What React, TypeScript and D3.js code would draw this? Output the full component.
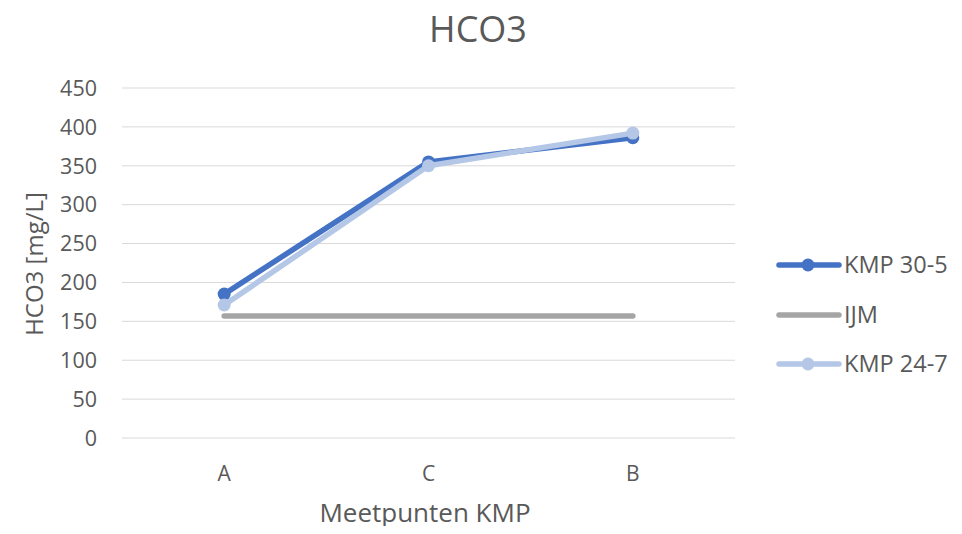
import React, { useEffect, useRef } from "react";
import * as d3 from "d3";

const categories = ["A", "C", "B"];
const kmp305 = [185, 355, 386];
const ijm = [157, 157, 157];
const kmp247 = [171, 350, 392];
const yTicks = [0, 50, 100, 150, 200, 250, 300, 350, 400, 450];

const series = [
  { name: "KMP 30-5", values: kmp305, color: "#4472c4", marker: true },
  { name: "IJM", values: ijm, color: "#a5a5a5", marker: false },
  { name: "KMP 24-7", values: kmp247, color: "#b4c7e7", marker: true },
];

const W = 962, H = 534;
const font = "'Open Sans', sans-serif";
const txt = "#595959";

export default function App() {
  const ref = useRef<SVGSVGElement>(null);
  useEffect(() => {
    const svg = d3.select(ref.current);
    svg.selectAll("*").remove();
    svg.append("rect").attr("width", W).attr("height", H).attr("fill", "#fff");
    const x = d3.scaleBand().domain(categories).range([122, 735]);
    const y = d3.scaleLinear().domain([0, 450]).range([438, 88]);
    const cx = (c: string) => (x(c) as number) + x.bandwidth() / 2;

    const g = svg.append("g");
    g.selectAll("line.grid").data(yTicks).enter().append("line")
      .attr("x1", 122).attr("x2", 735)
      .attr("y1", (d) => y(d)).attr("y2", (d) => y(d))
      .attr("stroke", "#d9d9d9").attr("stroke-width", 1);
    g.selectAll("text.yt").data(yTicks).enter().append("text")
      .attr("x", 97).attr("y", (d) => y(d)).attr("dy", "0.36em")
      .attr("text-anchor", "end").attr("font-family", font).attr("font-size", 21.5)
      .attr("fill", txt).text((d) => d);
    g.selectAll("text.xt").data(categories).enter().append("text")
      .attr("x", (d) => cx(d)).attr("y", 481)
      .attr("text-anchor", "middle").attr("font-family", font).attr("font-size", 21)
      .attr("fill", txt).text((d) => d);

    const line = d3.line<number>().x((_, i) => cx(categories[i])).y((d) => y(d));
    series.forEach((s) => {
      g.append("path").attr("d", line(s.values) as string).attr("fill", "none")
        .attr("stroke", s.color).attr("stroke-width", 5.5).attr("stroke-linecap", "round")
        .attr("stroke-linejoin", "round");
      if (s.marker) {
        g.selectAll(null).data(s.values).enter().append("circle")
          .attr("cx", (_, i) => cx(categories[i])).attr("cy", (d) => y(d))
          .attr("r", 6.5).attr("fill", s.color);
      }
    });

    svg.append("text").attr("x", 478).attr("y", 42).attr("text-anchor", "middle")
      .attr("font-family", font).attr("font-size", 36).attr("fill", txt).text("HCO3");
    svg.append("text").attr("x", 425).attr("y", 522).attr("text-anchor", "middle")
      .attr("font-family", font).attr("font-size", 26).attr("fill", txt).text("Meetpunten KMP");
    svg.append("text").attr("transform", "translate(43,264) rotate(-90)").attr("text-anchor", "middle")
      .attr("font-family", font).attr("font-size", 24).attr("fill", txt).text("HCO3 [mg/L]");

    const ly = [265, 315, 364];
    series.forEach((s, i) => {
      const lg = svg.append("g");
      lg.append("line").attr("x1", 779).attr("x2", 839).attr("y1", ly[i]).attr("y2", ly[i])
        .attr("stroke", s.color).attr("stroke-width", 5.5).attr("stroke-linecap", "round");
      if (s.marker) lg.append("circle").attr("cx", 808).attr("cy", ly[i]).attr("r", 6.5).attr("fill", s.color);
      lg.append("text").attr("x", 844).attr("y", ly[i]).attr("dy", "0.36em")
        .attr("font-family", font).attr("font-size", 23.5).attr("fill", txt).text(s.name);
    });
  }, []);
  return <svg ref={ref} width={W} height={H} style={{ display: "block", margin: -8 }} />;
}
